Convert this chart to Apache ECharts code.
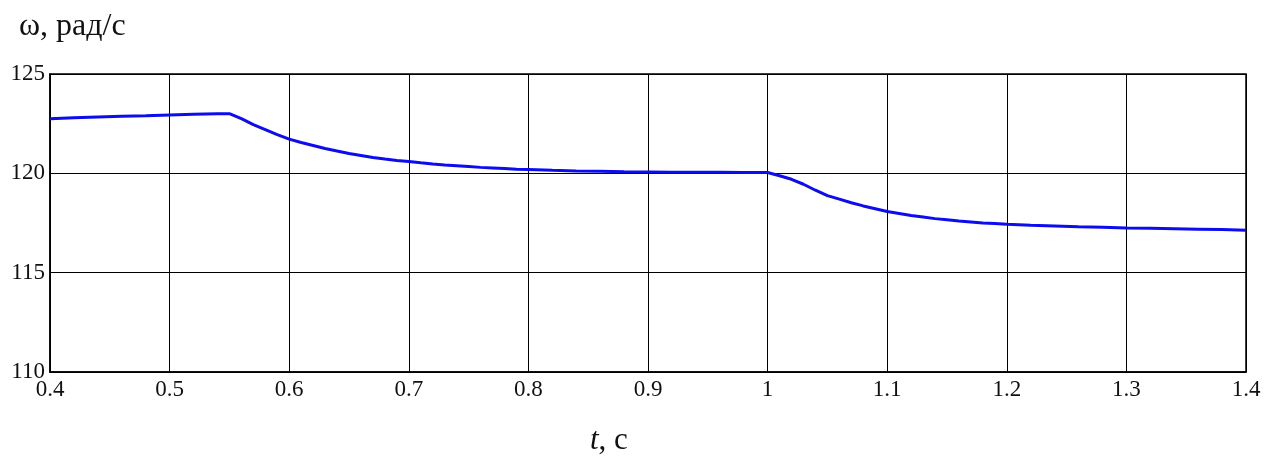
<!DOCTYPE html>
<html>
<head>
<meta charset="utf-8">
<script src="https://cdn.jsdelivr.net/npm/echarts@6/dist/echarts.min.js"></script>
<style>
html,body{margin:0;padding:0;background:#fff;}
#c{width:1284px;height:457px;}
</style>
</head>
<body>
<div id="c"></div>
<script>
// time, s
const timeS = [
  0.40,0.42,0.44,0.46,0.48,0.50,0.52,0.54,0.55,
  0.56,0.57,0.58,0.59,0.60,0.61,0.62,0.63,0.64,0.65,0.66,0.67,0.68,0.69,0.70,
  0.71,0.72,0.73,0.74,0.75,0.76,0.77,0.78,0.79,0.80,
  0.82,0.84,0.86,0.88,0.90,0.92,0.94,0.96,0.98,1.00,
  1.01,1.02,1.03,1.04,1.05,1.06,1.07,1.08,1.09,1.10,
  1.11,1.12,1.13,1.14,1.15,1.16,1.17,1.18,1.19,1.20,
  1.22,1.24,1.26,1.28,1.30,1.32,1.34,1.36,1.38,1.40
];
// angular speed, rad/s
const omega = [
  122.75,122.8,122.84,122.87,122.9,122.94,122.97,123.0,123.0,
  122.75,122.45,122.2,121.95,121.72,121.55,121.4,121.25,121.12,121.0,120.9,120.8,120.72,120.65,120.6,
  120.53,120.47,120.42,120.38,120.34,120.3,120.27,120.24,120.21,120.19,
  120.15,120.12,120.1,120.08,120.07,120.06,120.05,120.05,120.04,120.04,
  119.88,119.7,119.45,119.15,118.88,118.7,118.52,118.36,118.22,118.08,
  117.98,117.88,117.8,117.72,117.66,117.6,117.55,117.5,117.47,117.44,
  117.39,117.35,117.31,117.28,117.25,117.23,117.21,117.19,117.17,117.13
];
const yTitle = 'ω, рад/с';
const xTitleItalic = 't';
const xTitleRest = ', с';

const FONT = '"Liberation Serif", "DejaVu Serif", serif';
const chart = echarts.init(document.getElementById('c'), null, {renderer:'canvas'});
const fmt = v => String(Math.round(v*10)/10);
chart.setOption({
  animation:false,
  backgroundColor:'#fff',
  title:[{
    text:yTitle, left:14, top:6,
    textStyle:{fontFamily:FONT, fontSize:32, fontWeight:'normal', color:'#111'}
  },{
    text:'{i|'+xTitleItalic+'}{r|'+xTitleRest+'}', left:585, top:420,
    textStyle:{fontWeight:'normal', rich:{
      i:{fontFamily:FONT, fontSize:31, fontStyle:'italic', fontWeight:'normal', color:'#111'},
      r:{fontFamily:FONT, fontSize:31, fontWeight:'normal', color:'#111'}
    }}
  }],
  grid:{left:50, right:38, top:74, bottom:85, show:true, borderColor:'#000', borderWidth:1.5, backgroundColor:'transparent'},
  xAxis:{
    type:'value', min:0.4, max:1.4, interval:0.1,
    axisLine:{show:true, lineStyle:{color:'#000', width:1.5}},
    axisTick:{show:false},
    splitLine:{show:true, lineStyle:{color:'#000', width:1}},
    axisLabel:{fontFamily:FONT, fontSize:23, color:'#111', margin:6, formatter:fmt}
  },
  yAxis:{
    type:'value', min:110, max:125, interval:5,
    axisLine:{show:true, lineStyle:{color:'#000', width:1.5}},
    axisTick:{show:false},
    splitLine:{show:true, lineStyle:{color:'#000', width:1}},
    axisLabel:{fontFamily:FONT, fontSize:23, color:'#111', margin:5}
  },
  series:[{
    type:'line',
    data: timeS.map((t,i)=>[t, omega[i]]),
    showSymbol:false,
    lineStyle:{color:'#0c0cee', width:3},
    z:5
  }]
});
</script>
</body>
</html>
